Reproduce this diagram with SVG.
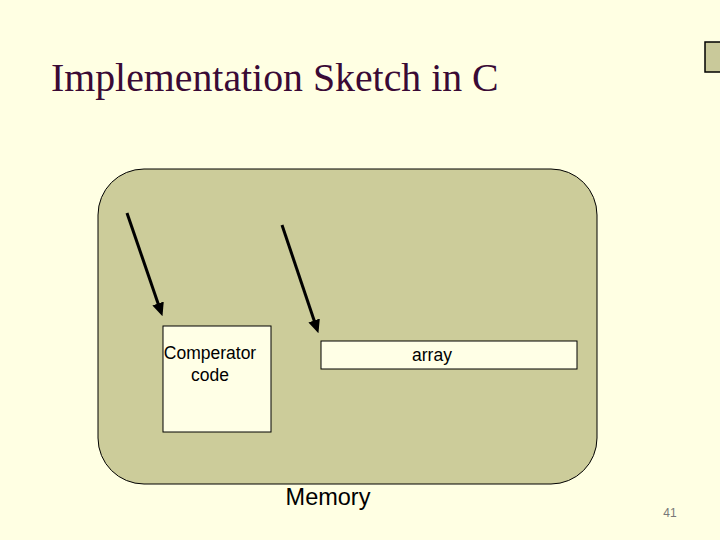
<svg xmlns="http://www.w3.org/2000/svg" width="720" height="540" viewBox="0 0 720 540">
<defs>
<style>
.lbl{font-family:"Liberation Sans",Arial,sans-serif;fill:#000}
.box{fill:#ffffe6;stroke:#000;stroke-width:1}
.conn{stroke:#000;stroke-width:3;fill:none}
</style>
<marker id="ah" markerWidth="4.5" markerHeight="4" refX="3" refY="2" orient="auto" markerUnits="strokeWidth">
<path d="M0,0 L4.5,2 L0,4 Z" fill="#000"/>
</marker>
</defs>
<rect width="720" height="540" fill="#ffffe3"/>
<rect x="705" y="42" width="20" height="30" fill="#c9c99a" stroke="#000" stroke-width="1.5"/>
<text x="51" y="91" font-family="'Liberation Serif','Times New Roman',serif" font-size="39.8" fill="#3a0a35">Implementation Sketch in C</text>
<g id="memory">
<rect x="98" y="169" width="499" height="315" rx="46" ry="46" fill="#cccc9a" stroke="#000" stroke-width="1"/>
<text class="lbl" x="328" y="505" font-size="23.5" text-anchor="middle">Memory</text>
</g>
<g id="comperator">
<rect class="box" x="163" y="326" width="108" height="106"/>
<text class="lbl" x="210" y="359" font-size="17.5" text-anchor="middle">Comperator</text>
<text class="lbl" x="210" y="381" font-size="17.5" text-anchor="middle">code</text>
</g>
<g id="array">
<rect class="box" x="321" y="341" width="256" height="28"/>
<text class="lbl" x="432" y="361" font-size="17.5" text-anchor="middle">array</text>
</g>
<g id="connectors">
<line class="conn" x1="127" y1="213" x2="161" y2="312" marker-end="url(#ah)"/>
<line class="conn" x1="282" y1="225" x2="317" y2="329" marker-end="url(#ah)"/>
</g>
<text x="670" y="517" font-family="'Liberation Sans',Arial,sans-serif" font-size="12" fill="#777" text-anchor="middle">41</text>
</svg>
